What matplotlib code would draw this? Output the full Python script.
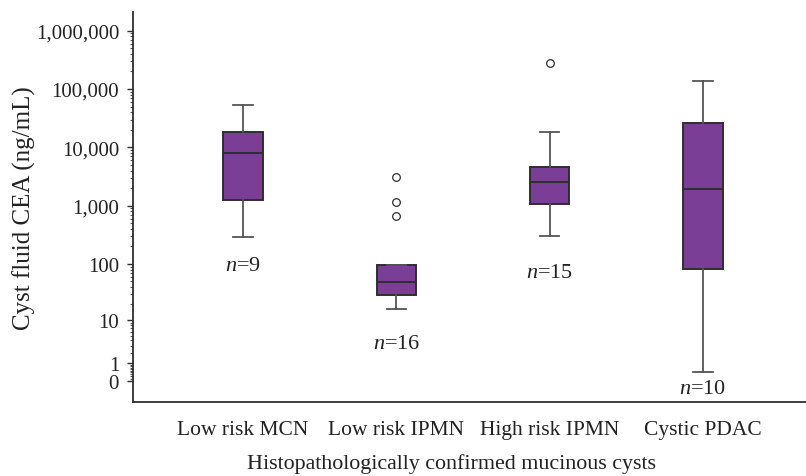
import numpy as np
import matplotlib
matplotlib.use("Agg")
import matplotlib.pyplot as plt
from matplotlib.ticker import FixedLocator, NullFormatter

plt.rcParams['font.family'] = ['Liberation Serif', 'DejaVu Serif']
plt.rcParams['mathtext.fontset'] = 'custom'
plt.rcParams['mathtext.rm'] = 'Liberation Serif'
plt.rcParams['mathtext.it'] = 'Liberation Serif:italic'

# data (ng/mL)
groups = ["Low risk MCN", "Low risk IPMN", "High risk IPMN", "Cystic PDAC"]
n_counts = [9, 16, 15, 10]
whislo = [290, 16, 300, 0.4]
q1 = [1240, 29, 1075, 81]
med = [8000, 49, 2600, 1950]
q3 = [18000, 97, 4700, 26000]
whishi = [54000, 97, 18000, 139000]
fliers = [[], [660, 1160, 3100], [280000], []]
n_label_y = [95, 3.3, 70, -0.27]

purple = "#7B3E96"
dark = "#2e2e2e"


def fwd(x):
    return np.log10(np.maximum(np.asarray(x, dtype=float) + 1, 1e-12))


def inv(t):
    return 10 ** np.asarray(t, dtype=float) - 1


fig = plt.figure(figsize=(8.06, 4.77), dpi=100)
ax = fig.add_axes([133 / 806, 74 / 477, 673 / 806, 390 / 477])

stats = []
for i in range(len(groups)):
    stats.append(dict(label=groups[i], whislo=whislo[i], q1=q1[i], med=med[i],
                      q3=q3[i], whishi=whishi[i], fliers=fliers[i]))

pos = np.arange(1, len(groups) + 1)
ax.bxp(stats, positions=pos, widths=0.255, patch_artist=True,
       boxprops=dict(facecolor=purple, edgecolor=dark, linewidth=1.4),
       medianprops=dict(color=dark, linewidth=1.4),
       whiskerprops=dict(color="#555555", linewidth=1.3),
       capprops=dict(color="#555555", linewidth=1.3),
       capwidths=0.125,
       flierprops=dict(marker="o", markersize=5.5, markerfacecolor="white",
                       markeredgecolor=dark, markeredgewidth=0.9))

ax.set_yscale("function", functions=(fwd, inv))
ax.set_ylim(-0.5635, 2.08e6)
ax.set_xlim(0.2825, 4.672)

major = [0, 1, 10, 100, 1000, 10000, 100000, 1000000]
ax.yaxis.set_major_locator(FixedLocator(major))
ax.set_yticklabels(["{:,}".format(v) for v in major])
minor = [k / 10 for k in range(1, 10)]
for e in range(0, 6):
    minor += [m * 10 ** e for m in range(2, 10)]
ax.yaxis.set_minor_locator(FixedLocator(minor))
ax.yaxis.set_minor_formatter(NullFormatter())
ax.tick_params(axis="y", which="major", length=4, width=1.0, color=dark,
               labelsize=15, pad=6, labelcolor="#222222")
ax.tick_params(axis="y", which="minor", length=2.5, width=0.8, color="#555555")

ax.set_xticks(pos)
ax.set_xticklabels(groups)
ax.tick_params(axis="x", length=0, labelsize=15.5, pad=13, labelcolor="#222222")

for s in ["top", "right"]:
    ax.spines[s].set_visible(False)
for s in ["left", "bottom"]:
    ax.spines[s].set_color(dark)
    ax.spines[s].set_linewidth(1.3)

for i in range(len(groups)):
    ax.text(pos[i], n_label_y[i], "$n$=" + str(n_counts[i]), ha="center",
            va="center", fontsize=16, color="#222222")

ax.set_ylabel("Cyst fluid CEA (ng/mL)", fontsize=18, color="#222222", labelpad=0)
fig.text(452 / 806, 13 / 477, "Histopathologically confirmed mucinous cysts",
         ha="center", va="center", fontsize=15.8, color="#222222")

fig.savefig("out.png", dpi=100)
